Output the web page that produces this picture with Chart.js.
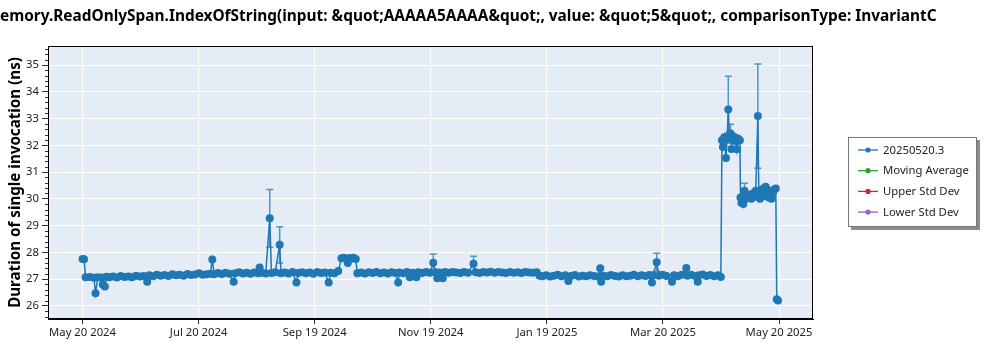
<!DOCTYPE html>
<html><head><meta charset="utf-8">
<script src="https://cdn.jsdelivr.net/npm/chart.js@4.4.1/dist/chart.umd.min.js"></script>
<style>html,body{margin:0;padding:0;background:#fff}#wrap{width:1000px;height:350px;position:relative}</style>
</head><body><div id="wrap"><canvas id="c" width="1000" height="350"></canvas></div>
<script>
const titleText = "emory.ReadOnlySpan.IndexOfString(input: &quot;AAAAA5AAAA&quot;, value: &quot;5&quot;, comparisonType: InvariantC";
const yAxisTitle = "Duration of single invocation (ns)";
const seriesNames = ["20250520.3", "Moving Average", "Upper Std Dev", "Lower Std Dev"];
const seriesColors = ["#1f77b4", "#2ca02c", "#d62728", "#9467bd"];
const startDate = "2024-05-20"; // x values are days since this date
const xTickDays = [0, 60.83, 121.67, 182.5, 243.33, 304.17, 365];
const xTickLabels = ["May 20 2024", "Jul 20 2024", "Sep 19 2024", "Nov 19 2024", "Jan 19 2025", "Mar 20 2025", "May 20 2025"];
const yTickValues = [26, 27, 28, 29, 30, 31, 32, 33, 34, 35];

const days = [
  0, 0.8, 1.6, 4, 6, 6.8, 8, 10, 10.6, 11.7,
  12.5, 14, 16, 18, 20, 22, 24, 26, 28, 30,
  32, 33.9, 35, 37, 39, 41, 43, 45, 47, 49,
  51, 53, 55, 57, 59, 61, 63, 65, 67, 68,
  69, 71, 73, 75, 77, 79.2, 80, 82, 84, 86,
  88, 90, 92, 92.8, 94, 96, 98.1, 99, 101, 103.3,
  104, 106, 108, 110, 112.1, 113, 115, 117, 119, 121,
  123, 125, 127, 129, 130, 132, 134, 135.7, 137, 138,
  139, 140, 141, 142, 143.2, 144, 146, 148, 150, 152,
  154, 156, 158, 160, 162, 164, 165.4, 166, 168, 170,
  171.5, 173, 175, 176, 178, 180, 182, 183.8, 185, 185.9,
  187, 188.8, 190, 192, 194, 196, 198, 200, 202, 204.9,
  206, 208, 210, 212, 214, 216, 218, 220, 222, 224,
  226, 228, 230, 232, 234, 236, 238, 239.5, 241, 243,
  245, 247, 249, 251, 253, 254.6, 256, 258, 260, 262,
  264, 266, 268, 270, 271.3, 271.8, 273, 275, 277, 279,
  281, 283, 285, 287, 289, 291, 293, 295, 297, 298.4,
  299, 300.9, 302, 304, 306, 308.9, 310, 312, 314, 316.4,
  317, 319, 321, 322.4, 323, 325, 327, 329, 331, 333,
  334.5, 335.1, 335.6, 336.3, 337.2, 337.8, 338.4, 338.9, 339.6, 340.1,
  340.6, 341.2, 341.8, 342.4, 342.9, 343.4, 343.9, 344.5, 344.8, 345.3,
  345.8, 346.3, 346.9, 347.5, 348.2, 349, 349.8, 350.5, 351.3, 352,
  352.8, 353.9, 354.4, 355, 355.8, 356.5, 357.2, 358, 358.8, 359.5,
  360.2, 361, 361.8, 362.5, 363.3, 363.8, 364.5
];
const durations = [
  27.75, 27.74, 27.07, 27.08, 27.05, 26.47, 27.07, 27.06, 26.8, 26.72,
  27.09, 27.07, 27.1, 27.06, 27.12, 27.08, 27.1, 27.07, 27.13, 27.1,
  27.12, 26.9, 27.14, 27.11, 27.16, 27.13, 27.15, 27.12, 27.18, 27.14,
  27.16, 27.13, 27.19, 27.15, 27.17, 27.22, 27.16, 27.18, 27.2, 27.73,
  27.18, 27.23, 27.19, 27.24, 27.2, 26.9, 27.22, 27.26, 27.21, 27.24,
  27.2, 27.25, 27.22, 27.43, 27.24, 27.21, 29.27, 27.23, 27.26, 28.28,
  27.22, 27.25, 27.21, 27.27, 26.87, 27.23, 27.26, 27.22, 27.25, 27.2,
  27.27, 27.23, 27.25, 26.87, 27.24, 27.22, 27.3, 27.78, 27.8, 27.76,
  27.6, 27.79, 27.77, 27.8, 27.75, 27.22, 27.25, 27.21, 27.26, 27.23,
  27.27, 27.22, 27.25, 27.21, 27.26, 27.23, 26.87, 27.25, 27.22, 27.27,
  27.07, 27.24, 27.07, 27.26, 27.23, 27.27, 27.24, 27.61, 27.26, 27.03,
  27.25, 27.03, 27.27, 27.24, 27.27, 27.25, 27.23, 27.27, 27.24, 27.57,
  27.26, 27.23, 27.27, 27.25, 27.28, 27.24, 27.27, 27.25, 27.23, 27.27,
  27.24, 27.26, 27.23, 27.27, 27.25, 27.24, 27.26, 27.13, 27.11, 27.14,
  27.1, 27.13, 27.16, 27.11, 27.14, 26.93, 27.12, 27.15, 27.1, 27.13,
  27.11, 27.14, 27.12, 27.1, 27.41, 26.9, 27.13, 27.11, 27.15, 27.12,
  27.1, 27.14, 27.11, 27.13, 27.16, 27.11, 27.14, 27.12, 27.15, 26.87,
  27.14, 27.63, 27.13, 27.16, 27.12, 26.9, 27.14, 27.11, 27.16, 27.42,
  27.13, 27.16, 27.12, 26.9, 27.14, 27.17, 27.12, 27.15, 27.11, 27.14,
  27.08, 32.19, 31.94, 32.3, 31.53, 32.25, 33.34, 32.4, 32.44, 31.86,
  32.35, 32.2, 32.3, 32.15, 31.85, 32.25, 32.18, 32.19, 30.05, 29.85,
  30.02, 29.81, 30.3, 30.0, 30.1, 30.05, 30.15, 30.0, 30.2, 30.08,
  30.3, 33.09, 30.25, 30.0, 30.35, 30.1, 30.4, 30.45, 30.35, 30.05,
  30.15, 30.0, 30.25, 30.35, 30.39, 26.25, 26.2
];
const errorBarDays = [98.1, 103.3, 183.8, 204.9, 300.9, 338.4, 339.6, 346.9, 353.9];
const errorBarSizes = [1.08, 0.68, 0.33, 0.28, 0.34, 1.24, 0.35, 0.28, 1.95];

const FAMILY = "'Noto Sans', 'Open Sans', sans-serif";
function fitSize(text, weight, target) {
  const c = document.createElement('canvas').getContext('2d');
  c.font = weight + ' 20px ' + FAMILY;
  return 20 * target / c.measureText(text).width;
}
const titleSize = fitSize(titleText, 'bold', 937);
const yTitleSize = fitSize(yAxisTitle, 'bold', 251);
const tickSize = fitSize(xTickLabels[0], 'normal', 67);
const legendSize = fitSize(seriesNames[1], 'normal', 86);

const bgPlugin = {
  id: 'bg',
  beforeDraw(chart) {
    const {ctx, chartArea: a} = chart;
    ctx.save();
    ctx.fillStyle = '#fff';
    ctx.fillRect(0, 0, chart.width, chart.height);
    ctx.fillStyle = '#E5ECF6';
    ctx.fillRect(a.left, a.top, a.right - a.left, a.bottom - a.top);
    ctx.restore();
  }
};

const errorBarPlugin = {
  id: 'errbars',
  beforeDatasetsDraw(chart) {
    const {ctx, chartArea: a, scales: {x, y}} = chart;
    ctx.save();
    ctx.beginPath();
    ctx.rect(a.left, a.top, a.right - a.left, a.bottom - a.top);
    ctx.clip();
    ctx.strokeStyle = 'rgba(31,119,180,0.75)';
    ctx.lineWidth = 1.5;
    errorBarDays.forEach((d, i) => {
      const idx = days.indexOf(d);
      if (idx < 0) return;
      const v = durations[idx];
      const px = x.getPixelForValue(d);
      const yt = y.getPixelForValue(v + errorBarSizes[i]);
      const yb = y.getPixelForValue(v - errorBarSizes[i]);
      ctx.beginPath();
      ctx.moveTo(px, yt); ctx.lineTo(px, yb);
      ctx.moveTo(px - 3.5, yt); ctx.lineTo(px + 3.5, yt);
      ctx.moveTo(px - 3.5, yb); ctx.lineTo(px + 3.5, yb);
      ctx.stroke();
    });
    ctx.restore();
  }
};

const framePlugin = {
  id: 'frame',
  afterDraw(chart) {
    const {ctx, chartArea: a, scales: {y}} = chart;
    ctx.save();
    ctx.strokeStyle = '#000';
    ctx.lineWidth = 1;
    ctx.strokeRect(Math.round(a.left) + 0.5, Math.round(a.top) + 0.5, Math.round(a.right - a.left) - 1, Math.round(a.bottom - a.top) - 1);
    ctx.strokeStyle = '#333';
    for (let k = 0; k <= 60; k++) {
      const v = 25.6 + k * 0.2;
      if (v > y.max) break;
      if (Math.abs(v - Math.round(v)) < 0.01) continue;
      const py = Math.round(y.getPixelForValue(v)) + 0.5;
      ctx.beginPath();
      ctx.moveTo(a.left - 3, py); ctx.lineTo(a.left, py);
      ctx.stroke();
    }
    ctx.fillStyle = '#000';
    ctx.font = 'bold ' + titleSize + 'px ' + FAMILY;
    ctx.textBaseline = 'middle';
    ctx.textAlign = 'left';
    ctx.fillText(titleText, 0, 17);
    ctx.restore();
  }
};

const legendPlugin = {
  id: 'customLegend',
  afterDraw(chart) {
    const {ctx} = chart;
    const bx = 848, by = 137, bw = 129, bh = 90;
    ctx.save();
    ctx.fillStyle = 'rgba(0,0,0,0.45)';
    ctx.fillRect(bx + 3, by + 3, bw, bh);
    ctx.fillStyle = '#fff';
    ctx.fillRect(bx, by, bw, bh);
    ctx.strokeStyle = '#777';
    ctx.lineWidth = 1;
    ctx.strokeRect(bx + 0.5, by + 0.5, bw - 1, bh - 1);
    ctx.font = legendSize + 'px ' + FAMILY;
    ctx.textBaseline = 'middle';
    ctx.textAlign = 'left';
    chart.data.datasets.forEach((ds, i) => {
      const ry = by + 13 + i * 20.7;
      ctx.strokeStyle = ds.borderColor;
      ctx.lineWidth = 1.3;
      ctx.beginPath();
      ctx.moveTo(858, ry); ctx.lineTo(878, ry);
      ctx.stroke();
      ctx.fillStyle = ds.borderColor;
      ctx.beginPath();
      ctx.arc(868, ry, 2.6, 0, Math.PI * 2);
      ctx.fill();
      ctx.fillStyle = '#222';
      ctx.fillText(ds.label, 883, ry + 0.5);
    });
    ctx.restore();
  }
};

const mainPoints = days.map((d, i) => ({x: d, y: durations[i]}));

new Chart(document.getElementById('c'), {
  type: 'line',
  data: {
    datasets: seriesNames.map((name, i) => ({
      label: name,
      data: i === 0 ? mainPoints : [],
      borderColor: seriesColors[i],
      backgroundColor: seriesColors[i],
      borderWidth: 1.5,
      pointRadius: 4,
      pointHoverRadius: 4,
      pointBorderWidth: 0,
      tension: 0,
      fill: false
    }))
  },
  options: {
    responsive: false,
    animation: false,
    devicePixelRatio: 1,
    layout: {padding: {left: 0, right: 187, top: 46, bottom: 0}},
    plugins: {legend: {display: false}, title: {display: false}, tooltip: {enabled: false}},
    scales: {
      x: {
        type: 'linear',
        min: -18.1,
        max: 382.8,
        afterBuildTicks: s => { s.ticks = xTickDays.map(v => ({value: v})); },
        afterFit: s => { s.height = 31; },
        ticks: {
          callback: (v, i) => xTickLabels[i],
          font: {family: FAMILY, size: tickSize},
          color: '#222',
          padding: 2,
          maxRotation: 0,
          autoSkip: false
        },
        grid: {color: '#fff', lineWidth: 1, tickColor: '#333', tickLength: 5, drawOnChartArea: true},
        border: {display: true, color: '#000', width: 1}
      },
      y: {
        type: 'linear',
        min: 25.51,
        max: 35.71,
        afterBuildTicks: s => { s.ticks = yTickValues.map(v => ({value: v})); },
        afterFit: s => { s.width = 48; },
        ticks: {
          callback: v => String(v),
          font: {family: FAMILY, size: tickSize},
          color: '#222',
          padding: 3
        },
        grid: {color: '#fff', lineWidth: 1, tickColor: '#333', tickLength: 6},
        border: {display: true, color: '#000', width: 1},
        title: {
          display: true,
          text: yAxisTitle,
          font: {family: FAMILY, size: yTitleSize, weight: 'bold'},
          color: '#000',
          padding: {top: 7, bottom: 0}
        }
      }
    }
  },
  plugins: [bgPlugin, errorBarPlugin, framePlugin, legendPlugin]
});
</script></body></html>
